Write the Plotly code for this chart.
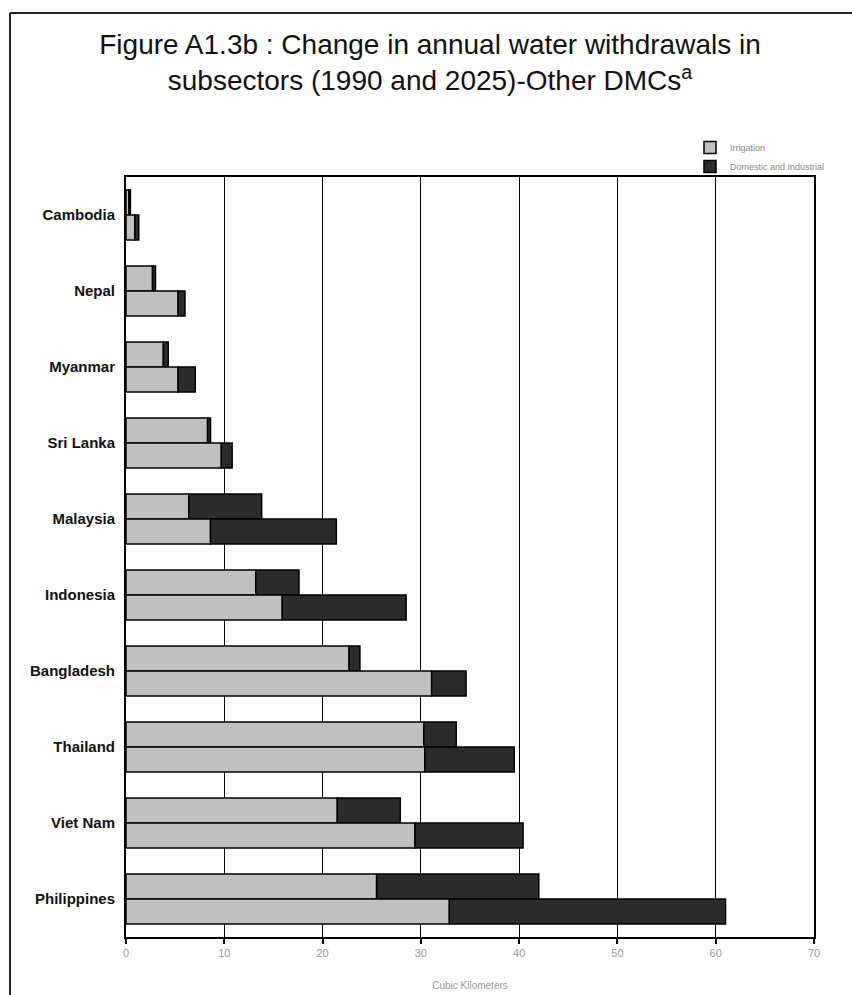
import plotly.graph_objects as go

# Countries, top to bottom
countries = ["Cambodia", "Nepal", "Myanmar", "Sri Lanka", "Malaysia",
             "Indonesia", "Bangladesh", "Thailand", "Viet Nam", "Philippines"]

# Annual withdrawals, cubic kilometers
irrigation_1990 = [0.3, 2.7, 3.8, 8.3, 6.4, 13.2, 22.7, 30.3, 21.5, 25.5]
domestic_1990   = [0.15, 0.3, 0.5, 0.3, 7.4, 4.4, 1.1, 3.3, 6.4, 16.5]
irrigation_2025 = [0.9, 5.3, 5.3, 9.7, 8.6, 15.9, 31.1, 30.4, 29.4, 32.9]
domestic_2025   = [0.4, 0.7, 1.75, 1.1, 12.8, 12.6, 3.5, 9.1, 11.0, 28.1]

x_ticks = [0, 10, 20, 30, 40, 50, 60, 70]

GRAY = "#c0c0c0"
DARK = "#2b2b2b"
outline = dict(color="black", width=1.5)

fig = go.Figure()

for year, irr, dom, show in [("1990", irrigation_1990, domestic_1990, True),
                             ("2025", irrigation_2025, domestic_2025, False)]:
    fig.add_trace(go.Bar(
        y=countries, x=irr, orientation="h", offsetgroup=year,
        name="Irrigation", legendgroup="irr", showlegend=show,
        marker=dict(color=GRAY, line=outline),
    ))
    fig.add_trace(go.Bar(
        y=countries, x=dom, base=irr, orientation="h", offsetgroup=year,
        name="Domestic and Industrial", legendgroup="dom", showlegend=show,
        marker=dict(color=DARK, line=outline),
    ))

L, R, T, B = 126, 38, 177, 58
W, H = 852, 995
pw, ph = W - L - R, H - T - B

def px_x(px):
    return (px - L) / pw

def px_y(py):
    return (H - B - py) / ph

fig.update_layout(
    width=W, height=H,
    margin=dict(l=L, r=R, t=T, b=B),
    paper_bgcolor="white", plot_bgcolor="white",
    barmode="group", bargap=0.34, bargroupgap=0,
    font=dict(family="Liberation Sans, Arial, sans-serif", color="black"),
    title=dict(
        text="Figure A1.3b : Change in annual water withdrawals in<br>"
             "subsectors (1990 and 2025)-Other DMCs<sup>a</sup>",
        x=430 / W, xanchor="center", xref="container",
        y=1 - 54 / H, yanchor="top", yref="container",
        font=dict(family="Liberation Sans, Arial, sans-serif",
                  size=28, color="#111111"),
    ),
    legend=dict(
        x=px_x(690), y=px_y(133), xanchor="left", yanchor="top",
        font=dict(size=9, color="#888888"),
        itemwidth=30, tracegroupgap=0, bgcolor="rgba(0,0,0,0)",
    ),
    xaxis=dict(
        range=[0, 70], tickvals=x_ticks, ticktext=[str(v) for v in x_ticks],
        showgrid=True, gridcolor="black", gridwidth=1,
        showline=True, linecolor="black", linewidth=2, mirror=True,
        ticks="outside", ticklen=5, tickcolor="black", tickwidth=1.5,
        tickfont=dict(size=11, color="#999999"),
        title=dict(text="Cubic Kilometers", font=dict(size=10, color="#999999"), standoff=24),
        zeroline=False, automargin=False,
    ),
    yaxis=dict(
        autorange="reversed", automargin=False,
        showline=True, linecolor="black", linewidth=2, mirror=True,
        ticks="", showgrid=False,
        tickfont=dict(size=15, color="#111111", family="Liberation Sans, Arial, sans-serif",
                      weight="bold"),
        ticklabelstandoff=6,
    ),
    shapes=[
        # outer frame: top and left edges
        dict(type="line", xref="paper", yref="paper",
             x0=px_x(10), x1=px_x(870), y0=px_y(13), y1=px_y(13),
             line=dict(color="#222222", width=2)),
        dict(type="line", xref="paper", yref="paper",
             x0=px_x(10), x1=px_x(10), y0=px_y(13), y1=px_y(1010),
             line=dict(color="#222222", width=2)),
    ],
)

fig.write_html("out.html")
